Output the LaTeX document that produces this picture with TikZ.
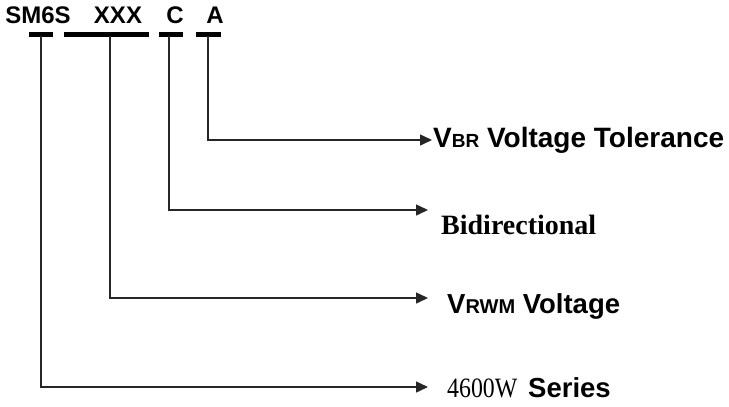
\documentclass[tikz,border=0pt]{standalone}
\usepackage{fontspec}
\setmainfont{Liberation Sans}
\newfontfamily\tnr{Liberation Serif}
\newfontfamily\narrowserif[FakeStretch=0.85]{Liberation Serif}
\usetikzlibrary{arrows.meta}
\begin{document}
\begin{tikzpicture}[x=1pt,y=-1pt,
  lbl/.style={inner sep=0pt,anchor=base west,font=\bfseries\fontsize{27.5}{32}\selectfont},
  top/.style={inner sep=0pt,anchor=base,font=\bfseries\fontsize{24}{28}\selectfont},
  bar/.style={line width=4.5pt,black},
  conn/.style={line width=1.5pt,black!85,-{Triangle[length=12pt,width=11pt]}}]
\useasboundingbox (0,0) rectangle (729,407);
% top code
\node[top] (tS) at (38,23) {SM6S};
\node[top] (tX) at (118,23) {XXX};
\node[top] (tC) at (175,23) {C};
\node[top] (tA) at (215,23) {A};
% bars
\draw[bar] (29,34.5) -- (53,34.5);
\draw[bar] (64,34.5) -- (149,34.5);
\draw[bar] (159,34.5) -- (183,34.5);
\draw[bar] (196,34.5) -- (221,34.5);
\coordinate (bS) at (41,36);
\coordinate (bX) at (110,36);
\coordinate (bC) at (169,36);
\coordinate (bA) at (208,36);
% arrow ends
\coordinate (eA) at (432,140);
\coordinate (eC) at (428,210);
\coordinate (eX) at (428,298);
\coordinate (eS) at (428,387);
\draw[conn] (bA) |- (eA);
\draw[conn] (bC) |- (eC);
\draw[conn] (bX) |- (eX);
\draw[conn] (bS) |- (eS);
% labels
\node[lbl,font=\bfseries\fontsize{28}{32}\selectfont] (lA) at (433,147) {V{\fontsize{19}{22}\selectfont BR} Voltage Tolerance};
\node[lbl,font=\tnr\bfseries\fontsize{28}{32}\selectfont] (lC) at (441,234) {Bidirectional};
\node[lbl] (lX) at (447,313) {V{\fontsize{20}{22}\selectfont RWM} Voltage};
\node[lbl,font=\narrowserif\fontsize{28}{30}\selectfont] (lS1) at (447,397) {4600W};
\node[lbl] (lS2) at (528,397) {Series};
\end{tikzpicture}
\end{document}
